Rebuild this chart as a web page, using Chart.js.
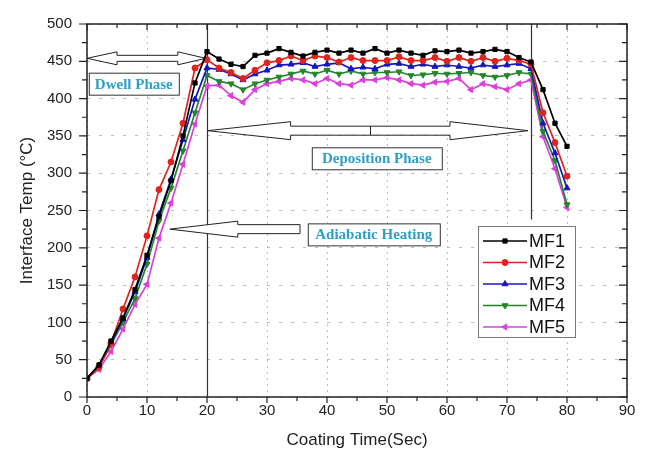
<!DOCTYPE html>
<html>
<head>
<meta charset="utf-8">
<script src="https://cdn.jsdelivr.net/npm/chart.js@4.4.0/dist/chart.umd.min.js"></script>
<style>
  body { margin: 0; background: #fff; }
  #wrap { width: 646px; height: 458px; }
</style>
</head>
<body>
<div id="wrap"><canvas id="chart" width="646" height="458"></canvas></div>
<script>
// coating time (sec)
const times = [0, 2, 4, 6, 8, 10, 12, 14, 16, 18, 20, 22, 24, 26, 28, 30, 32, 34, 36, 38, 40,
               42, 44, 46, 48, 50, 52, 54, 56, 58, 60, 62, 64, 66, 68, 70, 72, 74, 76, 78, 80];

// interface temperature (°C) per sample
const mf1 = [25, 43, 75, 106, 144, 190, 242, 290, 350, 421, 463, 453, 446, 443, 458, 461, 467, 462, 457, 462, 465,
             461, 465, 461, 467, 461, 465, 461, 458, 464, 463, 465, 461, 463, 466, 463, 455, 449, 412, 367, 336];
const mf2 = [25, 40, 72, 118, 161, 216, 278, 315, 367, 441, 452, 441, 435, 427, 438, 448, 451, 457, 451, 457, 455,
             449, 455, 451, 451, 451, 456, 451, 451, 455, 450, 455, 450, 455, 450, 454, 451, 446, 381, 341, 296];
const mf3 = [25, 42, 72, 105, 141, 187, 245, 292, 345, 399, 441, 439, 433, 425, 433, 438, 445, 446, 448, 443, 446,
             448, 440, 442, 440, 446, 447, 443, 446, 443, 445, 443, 441, 445, 443, 445, 447, 440, 367, 327, 280];
const mf4 = [25, 40, 70, 100, 132, 178, 236, 280, 330, 381, 431, 423, 420, 412, 420, 425, 429, 433, 437, 433, 438,
             433, 437, 433, 435, 435, 436, 431, 432, 434, 433, 434, 435, 431, 429, 431, 435, 433, 356, 317, 258];
const mf5 = [25, 37, 61, 91, 124, 151, 213, 260, 312, 366, 417, 418, 404, 395, 412, 420, 423, 427, 425, 420, 427,
             420, 418, 425, 425, 428, 425, 420, 418, 422, 423, 427, 412, 420, 416, 412, 420, 425, 349, 306, 254];

const seriesNames = ['MF1', 'MF2', 'MF3', 'MF4', 'MF5'];
const xTickValues = [0, 10, 20, 30, 40, 50, 60, 70, 80, 90];
const yTickValues = [0, 50, 100, 150, 200, 250, 300, 350, 400, 450, 500];

const toPoints = (vals) => times.map((t, i) => ({ x: t, y: vals[i] }));

const styles = [
  { color: '#000000', pointStyle: 'rect', rotation: 0, radius: 3 },
  { color: '#e0231c', pointStyle: 'circle', rotation: 0, radius: 3 },
  { color: '#1616c0', pointStyle: 'triangle', rotation: 0, radius: 3.5 },
  { color: '#23862a', pointStyle: 'triangle', rotation: 180, radius: 3.5 },
  { color: '#dc3fdc', pointStyle: 'triangle', rotation: -90, radius: 3.5 }
];

const allSeries = [mf1, mf2, mf3, mf4, mf5];

const datasets = allSeries.map((vals, i) => ({
  label: seriesNames[i],
  data: toPoints(vals),
  borderColor: styles[i].color,
  backgroundColor: styles[i].color,
  borderWidth: 1.7,
  pointStyle: styles[i].pointStyle,
  pointRotation: styles[i].rotation,
  pointRadius: styles[i].radius,
  pointBorderWidth: 1,
  tension: 0
}));

// hollow block arrow, heads on either end
function blockArrow(ctx, x1, x2, yc, headL, headR, headHalf, shaftHalf) {
  ctx.beginPath();
  if (headL > 0) {
    ctx.moveTo(x1, yc);
    ctx.lineTo(x1 + headL, yc - headHalf);
    ctx.lineTo(x1 + headL, yc - shaftHalf);
  } else {
    ctx.moveTo(x1, yc + shaftHalf);
    ctx.lineTo(x1, yc - shaftHalf);
  }
  if (headR > 0) {
    ctx.lineTo(x2 - headR, yc - shaftHalf);
    ctx.lineTo(x2 - headR, yc - headHalf);
    ctx.lineTo(x2, yc);
    ctx.lineTo(x2 - headR, yc + headHalf);
    ctx.lineTo(x2 - headR, yc + shaftHalf);
  } else {
    ctx.lineTo(x2, yc - shaftHalf);
    ctx.lineTo(x2, yc + shaftHalf);
  }
  if (headL > 0) {
    ctx.lineTo(x1 + headL, yc + shaftHalf);
    ctx.lineTo(x1 + headL, yc + headHalf);
  }
  ctx.closePath();
  ctx.fillStyle = '#fff';
  ctx.fill();
  ctx.strokeStyle = '#222';
  ctx.lineWidth = 1;
  ctx.stroke();
}

function labelBox(ctx, cx, cy, w, h, text) {
  ctx.fillStyle = '#fff';
  ctx.fillRect(cx - w / 2, cy - h / 2, w, h);
  ctx.strokeStyle = '#333';
  ctx.lineWidth = 1;
  ctx.strokeRect(cx - w / 2 + 0.5, cy - h / 2 + 0.5, w, h);
  ctx.fillStyle = '#2e9fc6';
  ctx.font = 'bold 15px "Liberation Serif", serif';
  ctx.textAlign = 'center';
  ctx.textBaseline = 'middle';
  ctx.fillText(text, cx, cy + 1);
}

const decorPlugin = {
  id: 'decor',
  beforeDatasetsDraw(chart) {
    const { ctx, scales: { x, y } } = chart;
    const px = (v) => x.getPixelForValue(v);
    const py = (v) => y.getPixelForValue(v);
    ctx.save();

    // phase boundaries
    ctx.strokeStyle = '#333';
    ctx.lineWidth = 1.2;
    ctx.beginPath();
    ctx.moveTo(Math.round(px(20)) + 0.5, py(500));
    ctx.lineTo(Math.round(px(20)) + 0.5, py(0));
    ctx.moveTo(Math.round(px(74)) + 0.5, py(500));
    ctx.lineTo(Math.round(px(74)) + 0.5, py(238));
    ctx.stroke();

    // dwell phase arrow
    blockArrow(ctx, px(0), px(19.8), py(454), 30, 28, 6.5, 3);
    // deposition phase arrow
    blockArrow(ctx, px(20.1), px(73.5), py(357), 83, 78, 9, 4.5);
    ctx.beginPath();
    ctx.moveTo(Math.round(px(47.2)) + 0.5, py(357) - 4.5);
    ctx.lineTo(Math.round(px(47.2)) + 0.5, py(357) + 4.5);
    ctx.stroke();
    // adiabatic heating arrow
    blockArrow(ctx, px(13.8), px(35.5), py(225), 68, 0, 8, 4.5);

    labelBox(ctx, px(7.8), py(420), 90, 22, 'Dwell Phase');
    labelBox(ctx, px(48.3), py(320), 130, 22, 'Deposition Phase');
    labelBox(ctx, px(47.8), py(218), 132, 22, 'Adiabatic Heating');

    ctx.restore();
  },
  afterDraw(chart) {
    const { ctx, chartArea: a, scales: { x, y } } = chart;
    ctx.save();
    ctx.strokeStyle = '#222';
    ctx.lineWidth = 1.5;
    ctx.strokeRect(a.left, a.top, a.right - a.left, a.bottom - a.top);

    // major and minor ticks: outward on bottom/left, inward on top/right
    ctx.lineWidth = 1.2;
    ctx.beginPath();
    for (let v = 0; v <= 90; v += 5) {
      const p = x.getPixelForValue(v);
      const len = v % 10 === 0 ? 6 : 4;
      ctx.moveTo(p, a.bottom); ctx.lineTo(p, a.bottom + len);
      ctx.moveTo(p, a.top); ctx.lineTo(p, a.top + len);
    }
    for (let v = 0; v <= 500; v += 25) {
      const p = y.getPixelForValue(v);
      const len = v % 50 === 0 ? 8 : 5;
      ctx.moveTo(a.left, p); ctx.lineTo(a.left - len, p);
      ctx.moveTo(a.right, p); ctx.lineTo(a.right - len, p);
    }
    ctx.stroke();

    // legend
    const lx = 478, ly = 226, lw = 97, lh = 111;
    ctx.fillStyle = '#fff';
    ctx.fillRect(lx, ly, lw, lh);
    ctx.strokeStyle = '#777';
    ctx.lineWidth = 1;
    ctx.strokeRect(lx + 0.5, ly + 0.5, lw, lh);
    ctx.font = '18px "Liberation Sans", Arial, sans-serif';
    ctx.textBaseline = 'middle';
    ctx.textAlign = 'left';
    chart.data.datasets.forEach((ds, i) => {
      const yy = ly + 15 + i * 21.5;
      ctx.strokeStyle = ds.borderColor;
      ctx.lineWidth = 1.7;
      ctx.beginPath();
      ctx.moveTo(lx + 5, yy);
      ctx.lineTo(lx + 49, yy);
      ctx.stroke();
      ctx.fillStyle = ds.borderColor;
      ctx.lineWidth = 1;
      Chart.helpers.drawPoint(ctx, {
        pointStyle: ds.pointStyle, radius: ds.pointRadius,
        rotation: ds.pointRotation, borderWidth: 1
      }, lx + 27, yy);
      ctx.fillStyle = '#111';
      ctx.fillText(ds.label, lx + 51, yy + 1);
    });
    ctx.restore();
  }
};

new Chart(document.getElementById('chart'), {
  type: 'line',
  data: { datasets },
  options: {
    responsive: false,
    animation: false,
    layout: { padding: { left: 0, top: 12, right: 19, bottom: 0 } },
    plugins: { legend: { display: false }, tooltip: { enabled: false } },
    scales: {
      x: {
        type: 'linear',
        min: 0, max: 90,
        afterBuildTicks: (s) => { s.ticks = xTickValues.map(v => ({ value: v })); },
        afterFit: (s) => { s.height = 61; },
        grid: { color: '#bdbdbd', drawTicks: false, lineWidth: 1 },
        border: { display: false, dash: [2, 4] },
        ticks: { padding: 5, color: '#222', font: { family: '"Liberation Sans", Arial, sans-serif', size: 15 }, maxRotation: 0 },
        title: { display: true, text: 'Coating Time(Sec)', color: '#222',
                 font: { family: '"Liberation Sans", Arial, sans-serif', size: 17 }, padding: { top: 0, bottom: 7 } }
      },
      y: {
        type: 'linear',
        min: 0, max: 500,
        afterBuildTicks: (s) => { s.ticks = yTickValues.map(v => ({ value: v })); },
        afterFit: (s) => { s.width = 87; },
        grid: { color: '#bdbdbd', drawTicks: false, lineWidth: 1 },
        border: { display: false, dash: [3, 9] },
        ticks: { padding: 15, color: '#222', font: { family: '"Liberation Sans", Arial, sans-serif', size: 15 } },
        title: { display: true, text: 'Interface Temp (°C)', color: '#222',
                 font: { family: '"Liberation Sans", Arial, sans-serif', size: 17 }, padding: { top: 17, bottom: 0 } }
      }
    }
  },
  plugins: [decorPlugin]
});
</script>
</body>
</html>
